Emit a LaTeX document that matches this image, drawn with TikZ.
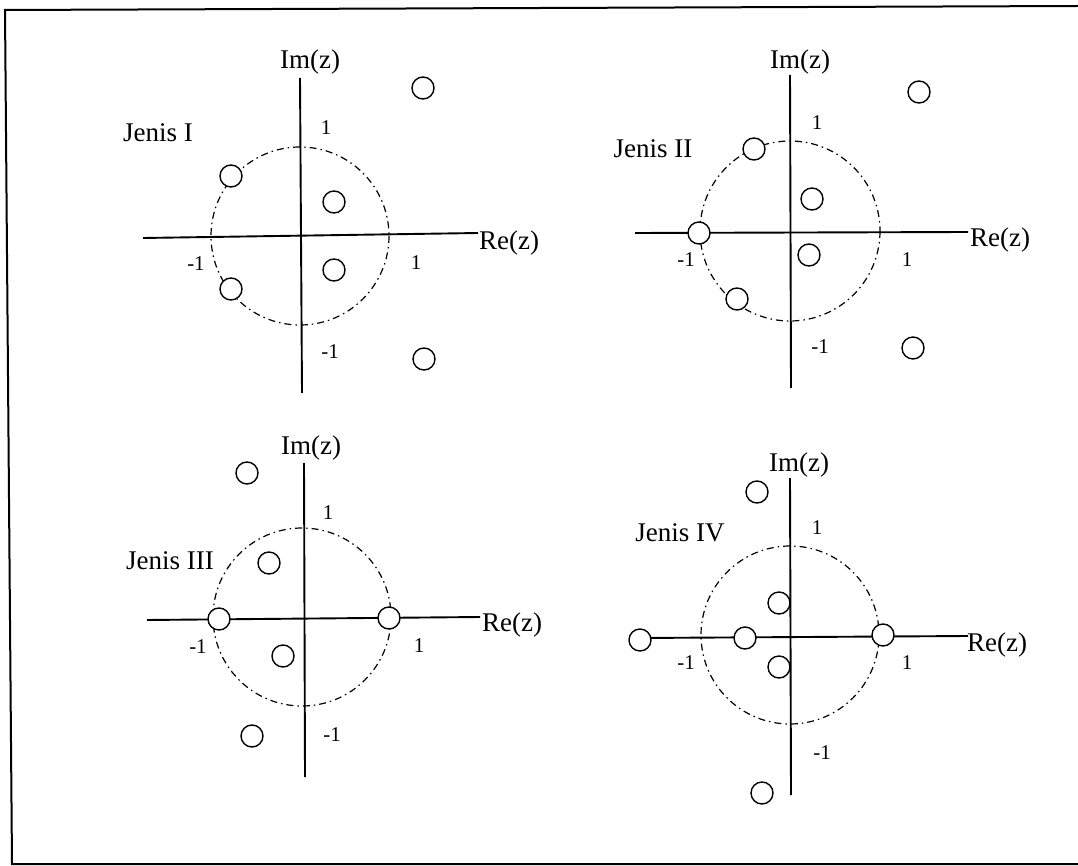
\documentclass[tikz,border=0pt]{standalone}
\usepackage{fontspec}
\setmainfont{Liberation Serif}
\begin{document}
\begin{tikzpicture}[x=1pt,y=-1pt,
  axis/.style={line width=1.9pt},
  unitcirc/.style={line width=1.2pt, dash pattern=on 7pt off 4pt on 1.5pt off 4pt},
  pole/.style={circle, draw, fill=white, line width=1.4pt, minimum size=22pt, inner sep=0pt},
  lab/.style={font=\fontsize{27}{30}\selectfont, inner sep=0pt},
  num/.style={font=\fontsize{21}{24}\selectfont, inner sep=0pt},
  frame/.style={line width=2pt}]
\useasboundingbox (0,0) rectangle (1078,866);

% page frame (open on the right)
\coordinate (fTR) at (1078,6);
\coordinate (fTL) at (5,10);
\coordinate (fBL) at (12,864);
\coordinate (fBR) at (1078,864);
\draw[frame] (fTR) -- (fTL) -- (fBL) -- (fBR);

% ---------------- Jenis I ----------------
\coordinate (o1) at (300,236);
\draw[unitcirc] (o1) circle[radius=89];
\coordinate (h1L) at (143,238);
\coordinate (h1R) at (478,233);
\coordinate (v1T) at (300,78);
\coordinate (v1B) at (302,393);
\draw[axis] (h1L) -- (h1R);
\draw[axis] (v1T) -- (v1B);
\node[lab] (im1) at (310,62) {Im(z)};
\node[lab] (re1) at (509,243) {Re(z)};
\node[lab] (jenis1) at (158,133) {Jenis I};
\node[num] (t1a) at (326,128) {1};
\node[num] (t1b) at (196,264) {-1};
\node[num] (t1c) at (416,263) {1};
\node[num] (t1d) at (330,352) {-1};
\node[pole] (p1a) at (423,88) {};
\node[pole] (p1b) at (231,176) {};
\node[pole] (p1c) at (334,202) {};
\node[pole] (p1d) at (334,270) {};
\node[pole] (p1e) at (231,289) {};
\node[pole] (p1f) at (424,359) {};

% ---------------- Jenis II ----------------
\coordinate (o2) at (790,231);
\draw[unitcirc] (o2) circle[radius=90];
\coordinate (h2L) at (635,233);
\coordinate (h2R) at (968,232);
\coordinate (v2T) at (790,75);
\coordinate (v2B) at (791,388);
\draw[axis] (h2L) -- (h2R);
\draw[axis] (v2T) -- (v2B);
\node[lab] (im2) at (800,62) {Im(z)};
\node[lab] (re2) at (1000,240) {Re(z)};
\node[lab] (jenis2) at (653,149) {Jenis II};
\node[num] (t2a) at (817,123) {1};
\node[num] (t2b) at (686,260) {-1};
\node[num] (t2c) at (907,260) {1};
\node[num] (t2d) at (820,347) {-1};
\node[pole] (p2a) at (919,92) {};
\node[pole] (p2b) at (754,149) {};
\node[pole] (p2c) at (812,199) {};
\node[pole] (p2d) at (699,233) {};
\node[pole] (p2e) at (809,255) {};
\node[pole] (p2f) at (737,299) {};
\node[pole] (p2g) at (913,348) {};

% ---------------- Jenis III ----------------
\coordinate (o3) at (302,617);
\draw[unitcirc] (o3) circle[radius=89];
\coordinate (h3L) at (147,620);
\coordinate (h3R) at (480,617);
\coordinate (v3T) at (304,463);
\coordinate (v3B) at (305,777);
\draw[axis] (h3L) -- (h3R);
\draw[axis] (v3T) -- (v3B);
\node[lab] (im3) at (311,448) {Im(z)};
\node[lab] (re3) at (512,625) {Re(z)};
\node[lab] (jenis3) at (170,561) {Jenis III};
\node[num] (t3a) at (328,513) {1};
\node[num] (t3b) at (198,647) {-1};
\node[num] (t3c) at (419,646) {1};
\node[num] (t3d) at (332,735) {-1};
\node[pole] (p3a) at (247,473) {};
\node[pole] (p3b) at (269,563) {};
\node[pole] (p3c) at (219,619) {};
\node[pole] (p3d) at (389,618) {};
\node[pole] (p3e) at (283,656) {};
\node[pole] (p3f) at (252,736) {};

% ---------------- Jenis IV ----------------
\coordinate (o4) at (790,635);
\draw[unitcirc] (o4) circle[radius=89];
\coordinate (h4L) at (640,638);
\coordinate (h4R) at (968,636);
\coordinate (v4T) at (790,478);
\coordinate (v4B) at (791,795);
\draw[axis] (h4L) -- (h4R);
\draw[axis] (v4T) -- (v4B);
\node[lab] (im4) at (799,465) {Im(z)};
\node[lab] (re4) at (997,645) {Re(z)};
\node[lab] (jenis4) at (680,533) {Jenis IV};
\node[num] (t4a) at (817,528) {1};
\node[num] (t4b) at (686,663) {-1};
\node[num] (t4c) at (907,663) {1};
\node[num] (t4d) at (822,753) {-1};
\node[pole] (p4a) at (757,492) {};
\node[pole] (p4b) at (779,603) {};
\node[pole] (p4c) at (640,640) {};
\node[pole] (p4d) at (745,638) {};
\node[pole] (p4e) at (883,635) {};
\node[pole] (p4f) at (779,667) {};
\node[pole] (p4g) at (762,793) {};
\end{tikzpicture}
\end{document}
